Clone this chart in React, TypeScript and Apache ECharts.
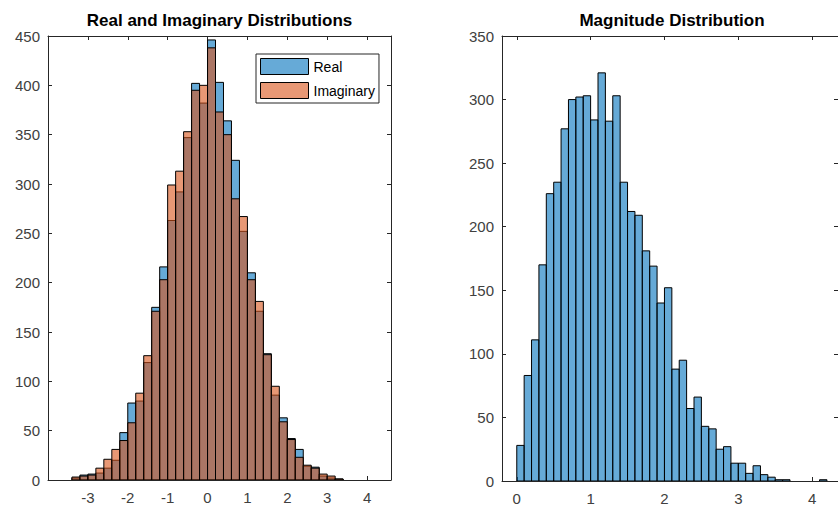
import React, { useEffect, useRef } from "react";
import * as echarts from "echarts";

// ---- Data ----
const riEdges = [
  -3.4, -3.2, -3.0, -2.8, -2.6, -2.4, -2.2, -2.0, -1.8, -1.6, -1.4, -1.2, -1.0, -0.8, -0.6, -0.4, -0.2,
  0.0, 0.2, 0.4, 0.6, 0.8, 1.0, 1.2, 1.4, 1.6, 1.8, 2.0, 2.2, 2.4, 2.6, 2.8, 3.0, 3.2, 3.4,
];
const realCounts = [
  2, 5, 6, 7, 12, 20, 48, 78, 80, 119, 175, 216, 263, 292, 347, 402, 382,
  446, 403, 364, 324, 252, 210, 171, 128, 86, 63, 42, 31, 14, 13, 4, 2, 1,
];
const imagCounts = [
  3, 4, 5, 12, 21, 31, 40, 58, 88, 126, 171, 203, 299, 313, 353, 395, 400,
  438, 373, 350, 285, 267, 203, 181, 127, 95, 59, 41, 23, 15, 12, 6, 4, 1,
];
const magEdges = [
  0.0, 0.1, 0.2, 0.3, 0.4, 0.5, 0.6, 0.7, 0.8, 0.9, 1.0, 1.1, 1.2, 1.3, 1.4, 1.5, 1.6, 1.7, 1.8, 1.9, 2.0,
  2.1, 2.2, 2.3, 2.4, 2.5, 2.6, 2.7, 2.8, 2.9, 3.0, 3.1, 3.2, 3.3, 3.4, 3.5, 3.6, 3.7, 3.8, 3.9, 4.0, 4.1, 4.2,
];
const magCounts = [
  28, 83, 111, 170, 226, 235, 277, 300, 302, 303, 284, 321, 283, 303, 235, 212, 209, 181, 169, 140, 152,
  88, 95, 57, 66, 43, 41, 25, 27, 14, 14, 6, 12, 5, 3, 1, 1, 0, 0, 0, 0, 1,
];
const riXTicks = [-3, -2, -1, 0, 1, 2, 3, 4];
const magXTicks = [0, 1, 2, 3, 4];
const titles = ["Real and Imaginary Distributions", "Magnitude Distribution"];
const seriesNames = ["Real", "Imaginary"];

const FONT = '"Liberation Sans", Arial, Helvetica, sans-serif';
const AXIS = "#262626";
const LABEL = "#404040";
const BLUE = "rgba(0,114,189,0.6)";
const ORANGE = "rgba(217,83,25,0.6)";

function binsData(edges: number[], counts: number[]) {
  return counts.map((c, i) => [edges[i], edges[i + 1], c]);
}

function histRender(fill: string) {
  return (params: any, api: any) => {
    const x0 = api.value(0);
    const x1 = api.value(1);
    const y = api.value(2);
    if (!y) return null;
    const p0 = api.coord([x0, y]);
    const p1 = api.coord([x1, 0]);
    return {
      type: "rect",
      shape: { x: p0[0], y: p0[1], width: p1[0] - p0[0], height: p1[1] - p0[1] },
      style: { fill, stroke: "#000", lineWidth: 1 },
    };
  };
}

function xAx(grid: number, min: number, max: number, ticks: number[], pos: string, labels: boolean) {
  return {
    type: "value",
    gridIndex: grid,
    min,
    max,
    position: pos,
    axisLine: { show: true, onZero: false, lineStyle: { color: AXIS, width: 1 } },
    axisTick: { show: true, inside: true, length: 4, customValues: ticks, lineStyle: { color: AXIS } },
    axisLabel: {
      show: labels,
      customValues: ticks,
      fontSize: 15,
      color: LABEL,
      fontFamily: FONT,
      margin: 10,
    },
    splitLine: { show: false },
  };
}

function yAx(grid: number, max: number, pos: string, labels: boolean) {
  return {
    type: "value",
    gridIndex: grid,
    min: 0,
    max,
    interval: 50,
    position: pos,
    axisLine: { show: true, onZero: false, lineStyle: { color: AXIS, width: 1 } },
    axisTick: { show: true, inside: true, length: 4, lineStyle: { color: AXIS } },
    axisLabel: { show: labels, fontSize: 15, color: LABEL, fontFamily: FONT, margin: 8 },
    splitLine: { show: false },
  };
}

export default function App() {
  const ref = useRef<HTMLDivElement>(null);
  useEffect(() => {
    if (!ref.current) return;
    const chart = echarts.init(ref.current, null, { renderer: "svg" });
    chart.setOption({
      animation: false,
      backgroundColor: "#fff",
      graphic: [
        {
          type: "text",
          x: 219.5,
          y: 20,
          style: {
            text: titles[0],
            textAlign: "center",
            textVerticalAlign: "middle",
            font: `bold 17px ${FONT}`,
            fill: "#000",
          },
        },
        {
          type: "text",
          x: 672,
          y: 20,
          style: {
            text: titles[1],
            textAlign: "center",
            textVerticalAlign: "middle",
            font: `bold 17px ${FONT}`,
            fill: "#000",
          },
        },
      ],
      grid: [
        { left: 48, top: 36, width: 343, height: 444 },
        { left: 502, top: 36, width: 339, height: 445 },
      ],
      xAxis: [
        xAx(0, -4, 4.6, riXTicks, "bottom", true),
        xAx(0, -4, 4.6, riXTicks, "top", false),
        xAx(1, -0.2, 4.35, magXTicks, "bottom", true),
        xAx(1, -0.2, 4.35, magXTicks, "top", false),
      ],
      yAxis: [
        yAx(0, 450, "left", true),
        yAx(0, 450, "right", false),
        yAx(1, 350, "left", true),
        yAx(1, 350, "right", false),
      ],
      legend: {
        orient: "vertical",
        left: 256,
        top: 54,
        itemWidth: 48,
        itemHeight: 16,
        itemGap: 7,
        padding: [4, 4, 4, 4],
        backgroundColor: "#fff",
        borderColor: AXIS,
        borderWidth: 1,
        icon: "rect",
        textStyle: { fontSize: 14, color: "#000", fontFamily: FONT },
        data: [
          { name: seriesNames[0], icon: "rect", itemStyle: { color: BLUE, borderColor: "#000", borderWidth: 1 } },
          { name: seriesNames[1], icon: "rect", itemStyle: { color: ORANGE, borderColor: "#000", borderWidth: 1 } },
        ],
      },
      series: [
        {
          name: seriesNames[0],
          type: "custom",
          xAxisIndex: 0,
          yAxisIndex: 0,
          clip: true,
          itemStyle: { color: BLUE, borderColor: "#000", borderWidth: 1 },
          renderItem: histRender(BLUE),
          encode: { x: [0, 1], y: 2 },
          data: binsData(riEdges, realCounts),
        },
        {
          name: seriesNames[1],
          type: "custom",
          xAxisIndex: 0,
          yAxisIndex: 0,
          clip: true,
          itemStyle: { color: ORANGE, borderColor: "#000", borderWidth: 1 },
          renderItem: histRender(ORANGE),
          encode: { x: [0, 1], y: 2 },
          data: binsData(riEdges, imagCounts),
        },
        {
          name: "Magnitude",
          type: "custom",
          xAxisIndex: 2,
          yAxisIndex: 2,
          clip: true,
          itemStyle: { color: BLUE, borderColor: "#000", borderWidth: 1 },
          renderItem: histRender(BLUE),
          encode: { x: [0, 1], y: 2 },
          data: binsData(magEdges, magCounts),
        },
      ],
    });
    return () => chart.dispose();
  }, []);
  return (
    <div
      ref={ref}
      style={{ position: "absolute", left: 0, top: 0, width: 838, height: 510, overflow: "hidden" }}
    />
  );
}
